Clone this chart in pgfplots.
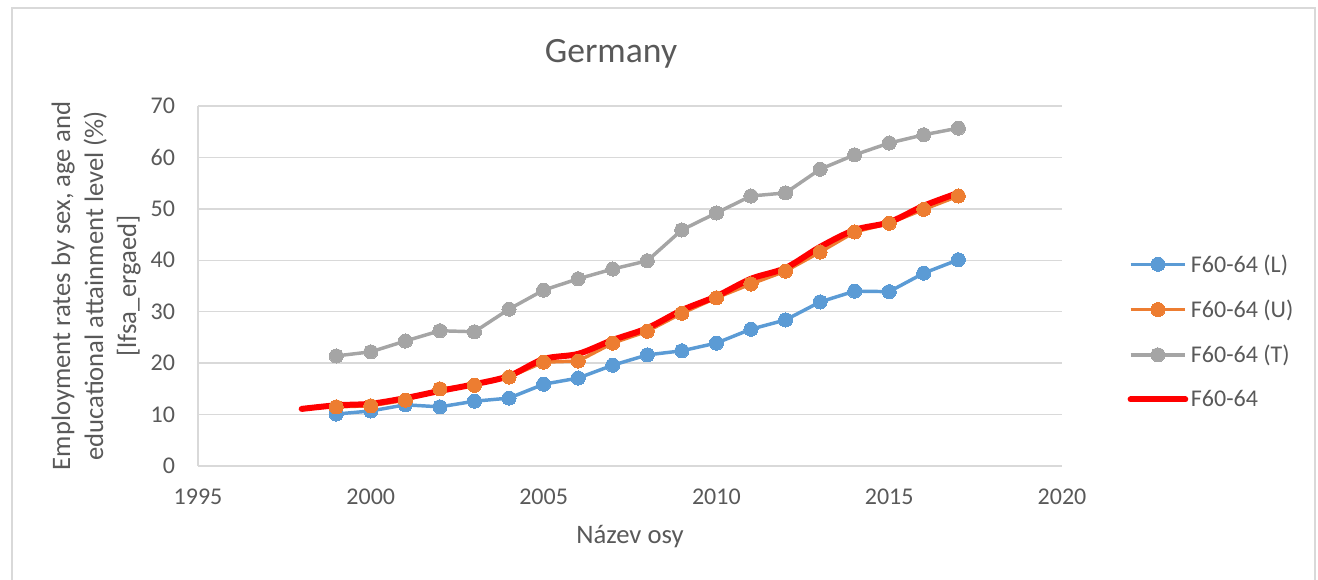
\documentclass[border=0pt]{standalone}
\usepackage{pgfplots}
\pgfplotsset{compat=1.18}
\usepackage{fontspec}
\setmainfont{Carlito}
\definecolor{cblue}{HTML}{5B9BD5}
\definecolor{corange}{HTML}{ED7D31}
\definecolor{cgray}{HTML}{A5A5A5}
\definecolor{cred}{HTML}{FF0000}
\definecolor{txt}{HTML}{595959}
\definecolor{gridc}{HTML}{D9D9D9}
\definecolor{framec}{HTML}{D9D9D9}
\begin{document}
\begin{tikzpicture}
\path[use as bounding box] (0pt,0pt) rectangle (988.5pt,-435pt);
\draw[color=framec, line width=1.5pt] (9pt,-6pt) rectangle (986.25pt,-450pt);
\begin{axis}[
  at={(148.5pt,-349.5pt)}, anchor=south west,
  scale only axis, width=648pt, height=270pt,
  xmin=1995, xmax=2020, ymin=0, ymax=70,
  xtick={1995,2000,...,2020}, ytick={0,10,...,70},
  axis x line*=bottom, axis y line*=left,
  axis line style={-, draw=gridc, line width=1.1pt},
  major tick length=0pt,
  ymajorgrids, grid style={draw=gridc, line width=1.1pt},
  /pgf/number format/assume math mode=true,
  /pgf/number format/1000 sep={},
  tick label style={font=\fontsize{18}{21}\selectfont, text=txt},
  xticklabel style={anchor=center, yshift=-23.25pt},
  yticklabel style={anchor=east, inner sep=0pt, xshift=-17pt},
  title={Germany},
  title style={font=\fontsize{26.7}{32}\selectfont, text=txt, at={(axis description cs:0.478,1.122)}, anchor=center},
  xlabel={Název osy},
  xlabel style={font=\fontsize{20}{24}\selectfont, text=txt, at={(axis description cs:0.5,-0.197)}, anchor=center},
  ylabel={Employment rates by sex, age and\\educational attainment level (\%)\\{}[lfsa\_ergaed]},
  ylabel style={font=\fontsize{20}{24.75}\selectfont, text=txt, align=center, at={(axis description cs:-0.118,0.5)}, anchor=center, rotate=0},
  legend style={draw=none, fill=none, at={(axis description cs:1.071,0.603)}, anchor=north west,
    font=\fontsize{18}{21}\selectfont, text=txt, row sep=15.3pt,
    /tikz/every even column/.append style={column sep=4.5pt}},
  legend cell align=left,
  legend image code/.code={\draw[mark repeat=2,mark phase=2] plot coordinates {(0pt,0pt) (20.5pt,0pt) (41pt,0pt)};},
]
\addplot[color=cblue, line width=2.6pt, mark=*, mark size=5.3pt, mark options={fill=cblue, draw=cblue, line width=0pt}] coordinates {
(1999,10.1) (2000,10.7) (2001,11.9) (2002,11.5) (2003,12.6) (2004,13.2) (2005,15.9) (2006,17.1) (2007,19.6) (2008,21.6) (2009,22.4) (2010,23.9) (2011,26.6) (2012,28.4) (2013,31.9) (2014,34.0) (2015,33.9) (2016,37.5) (2017,40.1)};
\addlegendentry{F60-64 (L)}
\addplot[color=corange, line width=2.6pt, mark=*, mark size=5.3pt, mark options={fill=corange, draw=corange, line width=0pt}] coordinates {
(1999,11.5) (2000,11.7) (2001,12.8) (2002,15.0) (2003,15.7) (2004,17.3) (2005,20.2) (2006,20.4) (2007,23.9) (2008,26.2) (2009,29.7) (2010,32.7) (2011,35.4) (2012,37.9) (2013,41.6) (2014,45.5) (2015,47.2) (2016,49.9) (2017,52.5)};
\addlegendentry{F60-64 (U)}
\addplot[color=cgray, line width=2.6pt, mark=*, mark size=5.3pt, mark options={fill=cgray, draw=cgray, line width=0pt}] coordinates {
(1999,21.4) (2000,22.2) (2001,24.3) (2002,26.3) (2003,26.1) (2004,30.5) (2005,34.2) (2006,36.4) (2007,38.3) (2008,39.9) (2009,45.9) (2010,49.2) (2011,52.5) (2012,53.1) (2013,57.7) (2014,60.5) (2015,62.8) (2016,64.4) (2017,65.7)};
\addlegendentry{F60-64 (T)}
\addplot[color=cred, line width=4.5pt, smooth, tension=0.5, line cap=round, no marks] coordinates {
(1998,11.1) (1999,11.8) (2000,12.1) (2001,13.2) (2002,14.6) (2003,15.9) (2004,17.5) (2005,20.8) (2006,21.8) (2007,24.5) (2008,26.8) (2009,30.3) (2010,33.0) (2011,36.4) (2012,38.5) (2013,42.6) (2014,45.9) (2015,47.4) (2016,50.6) (2017,53.1)};
\addlegendentry{F60-64}
\end{axis}
\end{tikzpicture}
\end{document}
